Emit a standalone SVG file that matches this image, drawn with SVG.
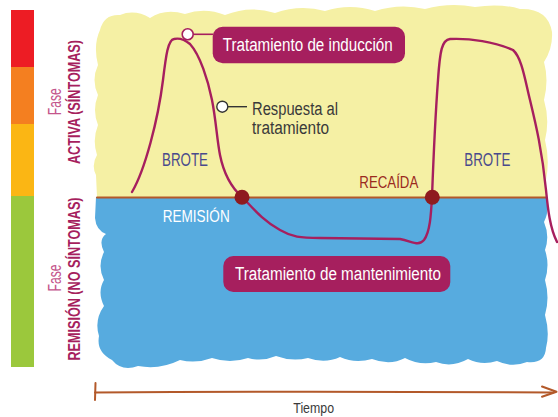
<svg xmlns="http://www.w3.org/2000/svg" width="558" height="417" viewBox="0 0 558 417">
<style>
  .t { font-family: "Liberation Sans", Arial, sans-serif; }
  .box { fill: #a61f5e; }
  .boxtxt { fill: #ffffff; font-size: 18px; }
  .curve { fill: none; stroke: #a61f5e; stroke-width: 2.4; stroke-linecap: round; stroke-linejoin: round; }
  .lead { fill: none; stroke: #a61f5e; stroke-width: 1.6; }
  .opendot { fill: #ffffff; stroke: #a61f5e; stroke-width: 1.6; }
  .event { fill: #8e1b1f; }
  .brown { fill: none; stroke: #b3592a; stroke-width: 2; stroke-linecap: round; stroke-linejoin: round; }
  .phase { fill: #a61f5e; font-size: 17px; font-weight: bold; }
  .fase { fill: #c4568c; font-size: 18px; }
</style>

<!-- colour scale bar -->
<g id="scale">
  <rect x="11" y="10" width="23" height="57" fill="#ed1c24"/>
  <rect x="11" y="67" width="23" height="57" fill="#f47f20"/>
  <rect x="11" y="124" width="23" height="72" fill="#fbb614"/>
  <rect x="11" y="196" width="23" height="171" fill="#9bc83c"/>
</g>

<g id="phase-labels" class="t">
  <text class="fase" transform="translate(61,101.7) rotate(-90)" text-anchor="middle" textLength="27" lengthAdjust="spacingAndGlyphs">Fase</text>
  <text class="phase" transform="translate(80,102) rotate(-90)" text-anchor="middle" textLength="124" lengthAdjust="spacingAndGlyphs">ACTIVA (SÍNTOMAS)</text>
  <text class="fase" transform="translate(61,278) rotate(-90)" text-anchor="middle" textLength="27" lengthAdjust="spacingAndGlyphs">Fase</text>
  <text class="phase" transform="translate(79.5,279) rotate(-90)" text-anchor="middle" textLength="163" lengthAdjust="spacingAndGlyphs">REMISIÓN (NO SÍNTOMAS)</text>
</g>

<!-- active (yellow) zone -->
<g id="active-zone">
  <path fill="#f5f0a4" d="M 97 197 L 96 175 Q 91 165 97 155 Q 92 140 98 125 Q 92 110 98 95 Q 91 80 98 65 Q 93 45 100 30 Q 104 14 120 15 Q 135 9 150 18 Q 165 8 185 14 Q 205 7 225 15 Q 250 5 275 13 Q 300 4 325 11 Q 350 3 375 11 Q 400 3 425 9 Q 450 2 475 7 Q 500 3 520 9 Q 548 8 552 32 Q 553 48 544 62 Q 549 80 544 100 Q 550 120 545 140 Q 550 160 546 180 L 546 197 Z"/>
  <text class="t" x="162" y="166" font-size="18" fill="#4a4a8c" textLength="46" lengthAdjust="spacingAndGlyphs">BROTE</text>
  <text class="t" x="464.3" y="166" font-size="18" fill="#4a4a8c" textLength="46" lengthAdjust="spacingAndGlyphs">BROTE</text>
  <text class="t" x="359.3" y="187.7" font-size="17" fill="#9b2a1e" textLength="59" lengthAdjust="spacingAndGlyphs">RECAÍDA</text>
</g>

<!-- remission (blue) zone -->
<g id="remission-zone">
  <path fill="#57abdf" d="M 96 197 L 546 197 Q 550 210 544 222 Q 550 236 545 250 Q 550 265 545 280 Q 550 298 545 315 Q 550 333 546 348 Q 545 364 527 362 Q 512 368 497 361 Q 482 366 468 359 Q 452 368 436 362 Q 420 366 405 358 Q 390 366 372 359 Q 355 364 340 357 Q 325 364 308 358 Q 292 362 276 356 Q 262 362 248 358 Q 230 364 212 358 Q 196 364 180 360 Q 160 370 138 366 Q 122 372 112 360 Q 96 352 99 336 Q 94 320 104 306 Q 97 292 104 280 Q 97 266 104 252 Q 98 240 106 234 Q 96 230 95 218 Z"/>
  <text class="t" x="162.7" y="221.7" font-size="17" fill="#ffffff" textLength="67" lengthAdjust="spacingAndGlyphs">REMISIÓN</text>
</g>

<!-- connectors -->
<g id="connectors">
  <line class="brown" x1="97" y1="197.5" x2="546" y2="197.5"/>
  <path class="curve" d="M 132 192 C 145 170 158 120 163 80 C 166 55 168 40 174 39 C 178 38 184 39 190 44 C 200 55 208 80 212 100 C 216 120 217 140 220 155 C 224 175 232 188 242 197 C 252 207 262 220 280 230 C 292 237 300 238 320 238 L 400 239 C 412 241 418 247 424 240 C 430 232 431 215 432 197 C 433 170 435 120 438 80 C 440 50 442 40 450 39 C 470 38 495 42 513 50 C 522 58 525 80 530 100 C 536 125 542 150 546 190 C 548 210 550 228 557 242"/>
  <line class="lead" x1="193" y1="34.3" x2="213" y2="34.3"/>
  <line x1="228" y1="106.7" x2="247" y2="106.7" stroke="#333333" stroke-width="1.4"/>
  <path class="brown" d="M 95 392.5 Q 300 391 553 392.5"/>
  <path class="brown" d="M 95.5 383 L 95 400"/>
  <path class="brown" d="M 542 386.5 L 556.5 391.7 L 542 396.7"/>
</g>

<!-- nodes -->
<g id="induction">
  <circle class="opendot" cx="187.7" cy="34.3" r="5.5"/>
  <rect class="box" x="212.7" y="26.7" width="192.3" height="36.6" rx="10"/>
  <text class="t boxtxt" x="222.7" y="51" textLength="170" lengthAdjust="spacingAndGlyphs">Tratamiento de inducción</text>
</g>

<g id="response">
  <circle cx="222.3" cy="106.7" r="5.5" fill="#ffffff" stroke="#333333" stroke-width="1.4"/>
  <text class="t" x="252" y="115" font-size="18" fill="#3a3a3a" textLength="86" lengthAdjust="spacingAndGlyphs">Respuesta al</text>
  <text class="t" x="252" y="134.3" font-size="18" fill="#3a3a3a" textLength="77" lengthAdjust="spacingAndGlyphs">tratamiento</text>
</g>

<g id="remission-point">
  <circle class="event" cx="242" cy="197.3" r="7.5"/>
</g>

<g id="relapse-point">
  <circle class="event" cx="432.3" cy="197.3" r="7.5"/>
</g>

<g id="maintenance">
  <rect class="box" x="223.3" y="256" width="227" height="36" rx="10"/>
  <text class="t boxtxt" x="235" y="280" textLength="206" lengthAdjust="spacingAndGlyphs">Tratamiento de mantenimiento</text>
</g>

<g id="time-axis-label">
  <text class="t" x="293.3" y="413" font-size="14" fill="#3a3a3a" textLength="40.7" lengthAdjust="spacingAndGlyphs">Tiempo</text>
</g>
</svg>
